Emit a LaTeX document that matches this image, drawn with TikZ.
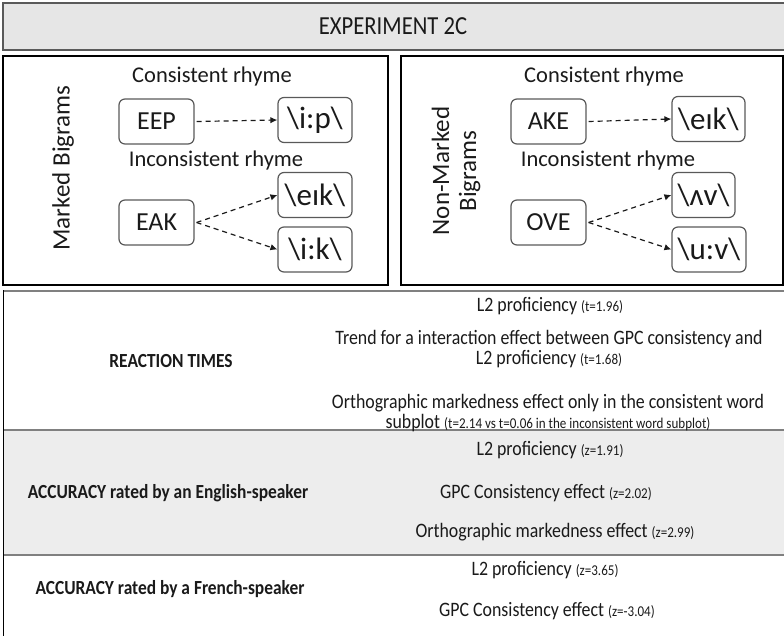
\documentclass[tikz,border=0pt]{standalone}
\usepackage{fontspec}
\setmainfont{Carlito}
\newfontfamily\condfont{Carlito}[FakeStretch=0.87]
\usetikzlibrary{arrows.meta}
\definecolor{titlefill}{HTML}{E6E6E6}
\definecolor{titleline}{HTML}{5A5A5A}
\definecolor{rowfill}{HTML}{EDEDED}
\definecolor{sepline}{HTML}{808080}
\definecolor{boxline}{HTML}{595959}
\definecolor{txt}{HTML}{1A1A1A}
\newcommand\setfs[2]{\fontsize{#1}{#2}\selectfont}
\newcommand\smallpar[1]{{\setfs{15}{16}#1}}
\newcommand\bsl{\textbackslash}
\tikzset{
  bx/.style={draw=boxline, line width=1.2pt, rounded corners=6pt, minimum height=45pt,
    inner xsep=3pt, inner ysep=1pt, font=\setfs{26}{30}, text=txt},
  ph/.style={bx, font=\setfs{31}{34}},
  arr/.style={draw=txt, line width=1.2pt, dash pattern=on 5pt off 4pt,
    -{Latex[length=7pt,width=6.5pt]}},
  lbl/.style={font=\setfs{22.5}{26}, text=txt},
  side/.style={font=\setfs{25}{27}, text=txt, rotate=90, align=center},
  tt/.style={font=\condfont\setfs{20.5}{20.5}, text=txt, align=center},
  tb/.style={font=\condfont\bfseries\setfs{20}{22}, text=txt, align=center},
}
\begin{document}
\begin{tikzpicture}[x=1pt,y=-1pt]
\useasboundingbox (0,0) rectangle (784,636);
% title
\draw[fill=titlefill, draw=titleline, line width=1.5pt] (3,3) rectangle (790,50);
\node[font=\condfont\setfs{26}{28}, text=txt] (title) at (393,26) {EXPERIMENT 2C};
% panels
\draw[line width=1.2pt] (3,56) rectangle (388,285);
\draw[line width=1.2pt] (401,56) rectangle (783,285);
% left panel
\node[side] (mb) at (63,168) {Marked Bigrams};
\node[lbl] (cr1) at (212,77) {Consistent rhyme};
\node[lbl] (ir1) at (216,161) {Inconsistent rhyme};
\node[bx, minimum width=75pt] (eep) at (156.5,121.5) {EEP};
\node[ph, minimum width=74pt] (ip) at (315,120) {\bsl i:p\bsl};
\node[ph, minimum width=74pt] (eik1) at (315,195) {\bsl eɪk\bsl};
\node[bx, minimum width=75pt] (eak) at (156.5,222.5) {EAK};
\node[ph, minimum width=74pt] (ik) at (315,249.5) {\bsl i:k\bsl};
\draw[arr] ([xshift=2pt]eep.east) -- (ip.west);
\draw[arr] ([xshift=2pt]eak.east) -- (eik1.west);
\draw[arr] ([xshift=2pt]eak.east) -- (ik.west);
% right panel
\node[side] (nmb) at (456,171) {Non-Marked\\Bigrams};
\node[lbl] (cr2) at (604,77) {Consistent rhyme};
\node[lbl] (ir2) at (608,161) {Inconsistent rhyme};
\node[bx, minimum width=75pt] (ake) at (548.5,121.5) {AKE};
\node[ph, minimum width=73pt] (eik2) at (708.5,119) {\bsl eɪk\bsl};
\node[bx, minimum width=75pt] (ove) at (548.5,222.5) {OVE};
\node[ph, minimum width=63pt] (av) at (703.5,195) {\bsl ʌv\bsl};
\node[ph, minimum width=74pt] (uv) at (709,249.5) {\bsl u:v\bsl};
\draw[arr] ([xshift=2pt]ake.east) -- (eik2.west);
\draw[arr] ([xshift=2pt]ove.east) -- (av.west);
\draw[arr] ([xshift=2pt]ove.east) -- (uv.west);
% table
\fill[rowfill] (3,430) rectangle (790,555);
\draw[draw=sepline, line width=2pt] (3,291) -- (790,291);
\draw[draw=sepline, line width=1.5pt] (3,430) -- (790,430);
\draw[draw=sepline, line width=1.5pt] (3,555) -- (790,555);
\draw[line width=1pt] (3,290) -- (3,640);
% reaction times
\node[tb] (rt) at (171,361) {REACTION TIMES};
\node[tt] (rt1) at (550,306) {L2 proficiency \smallpar{(t=1.96)}};
\node[tt] (rt2) at (549,349) {Trend for a interaction effect between GPC consistency and\\L2 proficiency \smallpar{(t=1.68)}};
\node[tt] (rt3) at (548,413) {Orthographic markedness effect only in the consistent word\\subplot \smallpar{(t=2.14 vs t=0.06 in the inconsistent word subplot)}};
% accuracy english
\node[tb] (ae) at (168,493) {ACCURACY rated by an English-speaker};
\node[tt] (ae1) at (550,450) {L2 proficiency \smallpar{(z=1.91)}};
\node[tt] (ae2) at (546,493) {GPC Consistency effect \smallpar{(z=2.02)}};
\node[tt] (ae3) at (555,532) {Orthographic markedness effect \smallpar{(z=2.99)}};
% accuracy french
\node[tb] (af) at (170,589) {ACCURACY rated by a French-speaker};
\node[tt] (af1) at (545,570) {L2 proficiency \smallpar{(z=3.65)}};
\node[tt] (af2) at (547,611) {GPC Consistency effect \smallpar{(z=-3.04)}};
\end{tikzpicture}
\end{document}
